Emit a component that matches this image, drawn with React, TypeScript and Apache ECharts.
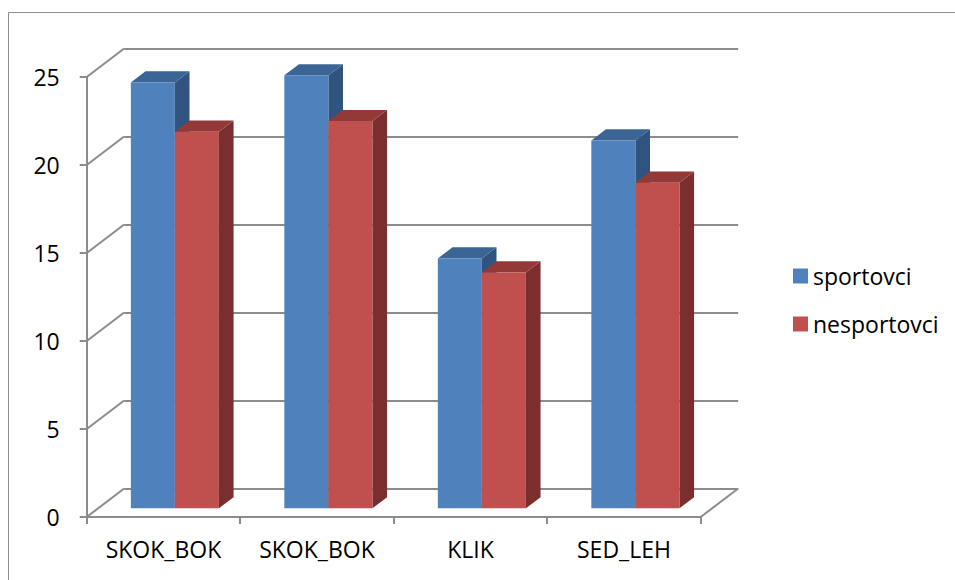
import { useEffect, useRef } from "react";
import * as echarts from "echarts";

// Data
const categories = ["SKOK_BOK", "SKOK_BOK", "KLIK", "SED_LEH"];
const sportovci = [24.2, 24.6, 14.2, 20.9];
const nesportovci = [21.4, 22.0, 13.4, 18.5];
const seriesNames = ["sportovci", "nesportovci"];
const yTicks = [0, 5, 10, 15, 20, 25];
const yMax = 25;
const yStep = 5;

// Layout of the pseudo-3D box: front plane, depth vector and bar slab
const PLOT = { left: 86.7, top: 77, width: 614, height: 440 };
const DEPTH = { dx: 37.5, dy: -28.5 };
const BAR_DEPTH_START = 0.305;
const BAR_DEPTH_SIZE = 0.39;
const BAR_WIDTH_RATIO = 0.287;

const FONT = "'Open Sans', 'Noto Sans', sans-serif";
const FONT_SIZE = 23;
const GRID_COLOR = "#8c8c8c";

const COLORS = {
  sportovci: { front: "#4F81BD", top: "#3B6595", side: "#30547F" },
  nesportovci: { front: "#C0504D", top: "#933A38", side: "#7A2F2E" },
};

function gridAt(depth: number) {
  return {
    left: PLOT.left + DEPTH.dx * depth,
    top: PLOT.top + DEPTH.dy * depth,
    width: PLOT.width,
    height: PLOT.height,
  };
}

function barRenderer(side: -1 | 1, c: { front: string; top: string; side: string }) {
  return (_params: any, api: any) => {
    const cat = api.value(0);
    const val = api.value(1);
    const top = api.coord([cat, val]);
    const base = api.coord([cat, 0]);
    const band = api.size([1, 0])[0];
    const w = band * BAR_WIDTH_RATIO;
    const x = side < 0 ? top[0] - w : top[0];
    const y = top[1];
    const yb = base[1];
    const dx = DEPTH.dx * BAR_DEPTH_SIZE;
    const dy = DEPTH.dy * BAR_DEPTH_SIZE;
    return {
      type: "group",
      children: [
        {
          type: "polygon",
          shape: { points: [[x + w, y], [x + w + dx, y + dy], [x + w + dx, yb + dy], [x + w, yb]] },
          style: { fill: c.side },
        },
        {
          type: "polygon",
          shape: { points: [[x, y], [x + dx, y + dy], [x + w + dx, y + dy], [x + w, y]] },
          style: { fill: c.top },
        },
        {
          type: "rect",
          shape: { x, y, width: w, height: yb - y },
          style: { fill: c.front },
        },
      ],
    };
  };
}

// Side-wall diagonals and the right floor edge
function frameRenderer(_params: any, api: any) {
  const v = api.value(1);
  const band = api.size([1, 0])[0];
  const p = api.coord([0, v]);
  const lx = p[0] - band / 2;
  const children: any[] = [
    {
      type: "line",
      shape: { x1: lx, y1: p[1], x2: lx + DEPTH.dx, y2: p[1] + DEPTH.dy },
      style: { stroke: GRID_COLOR, lineWidth: 2 },
    },
  ];
  if (v === 0) {
    const r = api.coord([categories.length - 1, 0]);
    const rx = r[0] + band / 2;
    children.push({
      type: "line",
      shape: { x1: rx, y1: r[1], x2: rx + DEPTH.dx, y2: r[1] + DEPTH.dy },
      style: { stroke: GRID_COLOR, lineWidth: 2 },
    });
  }
  return { type: "group", children };
}

export default function App() {
  const ref = useRef<HTMLDivElement>(null);

  useEffect(() => {
    if (!ref.current) return;
    const chart = echarts.init(ref.current, undefined, { renderer: "svg" });

    const valueAxisBase = { type: "value", min: 0, max: yMax, interval: yStep };

    chart.setOption({
      animation: false,
      backgroundColor: "#ffffff",
      grid: [gridAt(1), gridAt(0), gridAt(BAR_DEPTH_START)],
      xAxis: [
        { type: "category", data: categories, gridIndex: 0, show: false },
        {
          type: "category",
          data: categories,
          gridIndex: 1,
          axisLine: { show: true, lineStyle: { color: GRID_COLOR, width: 2 } },
          axisTick: { show: true, length: 7, lineStyle: { color: GRID_COLOR, width: 2 } },
          axisLabel: { color: "#000", fontSize: FONT_SIZE, fontFamily: FONT, margin: 20 },
        },
        { type: "category", data: categories, gridIndex: 2, show: false },
      ],
      yAxis: [
        {
          ...valueAxisBase,
          gridIndex: 0,
          axisLine: { show: false },
          axisTick: { show: false },
          axisLabel: { show: false },
          splitLine: { show: true, lineStyle: { color: GRID_COLOR, width: 2 } },
        },
        {
          ...valueAxisBase,
          gridIndex: 1,
          axisLine: { show: true, lineStyle: { color: GRID_COLOR, width: 2 } },
          axisTick: { show: true, length: 7, lineStyle: { color: GRID_COLOR, width: 2 } },
          axisLabel: {
            color: "#000",
            fontSize: FONT_SIZE,
            fontFamily: FONT,
            margin: 27,
            customValues: yTicks,
          },
          splitLine: { show: false },
        },
        { ...valueAxisBase, gridIndex: 2, show: false },
      ],
      legend: {
        orient: "vertical",
        left: 793,
        top: 264,
        padding: 0,
        itemWidth: 15,
        itemHeight: 15,
        itemGap: 24,
        icon: "rect",
        data: seriesNames,
        textStyle: {
          color: "#000",
          fontSize: FONT_SIZE,
          fontFamily: FONT,
          lineHeight: 24,
          padding: [0, 0, 0, 0],
        },
      },
      graphic: [
        {
          type: "rect",
          shape: { x: 8.5, y: 12.5, width: 1000, height: 1000 },
          style: { fill: "none", stroke: "#8f8f8f", lineWidth: 1 },
          silent: true,
          z: -1,
        },
      ],
      series: [
        {
          type: "custom",
          name: "frame",
          xAxisIndex: 1,
          yAxisIndex: 1,
          silent: true,
          clip: false,
          data: yTicks.map((v) => [0, v]),
          encode: { x: 0, y: 1 },
          renderItem: frameRenderer,
        },
        {
          type: "custom",
          name: seriesNames[0],
          xAxisIndex: 2,
          yAxisIndex: 2,
          clip: false,
          itemStyle: { color: COLORS.sportovci.front },
          data: sportovci.map((v, i) => [i, v]),
          encode: { x: 0, y: 1 },
          renderItem: barRenderer(-1, COLORS.sportovci),
        },
        {
          type: "custom",
          name: seriesNames[1],
          xAxisIndex: 2,
          yAxisIndex: 2,
          clip: false,
          itemStyle: { color: COLORS.nesportovci.front },
          data: nesportovci.map((v, i) => [i, v]),
          encode: { x: 0, y: 1 },
          renderItem: barRenderer(1, COLORS.nesportovci),
        },
      ],
    });

    return () => chart.dispose();
  }, []);

  return (
    <div
      ref={ref}
      style={{ position: "absolute", left: 0, top: 0, width: 955, height: 580, background: "#fff" }}
    />
  );
}
